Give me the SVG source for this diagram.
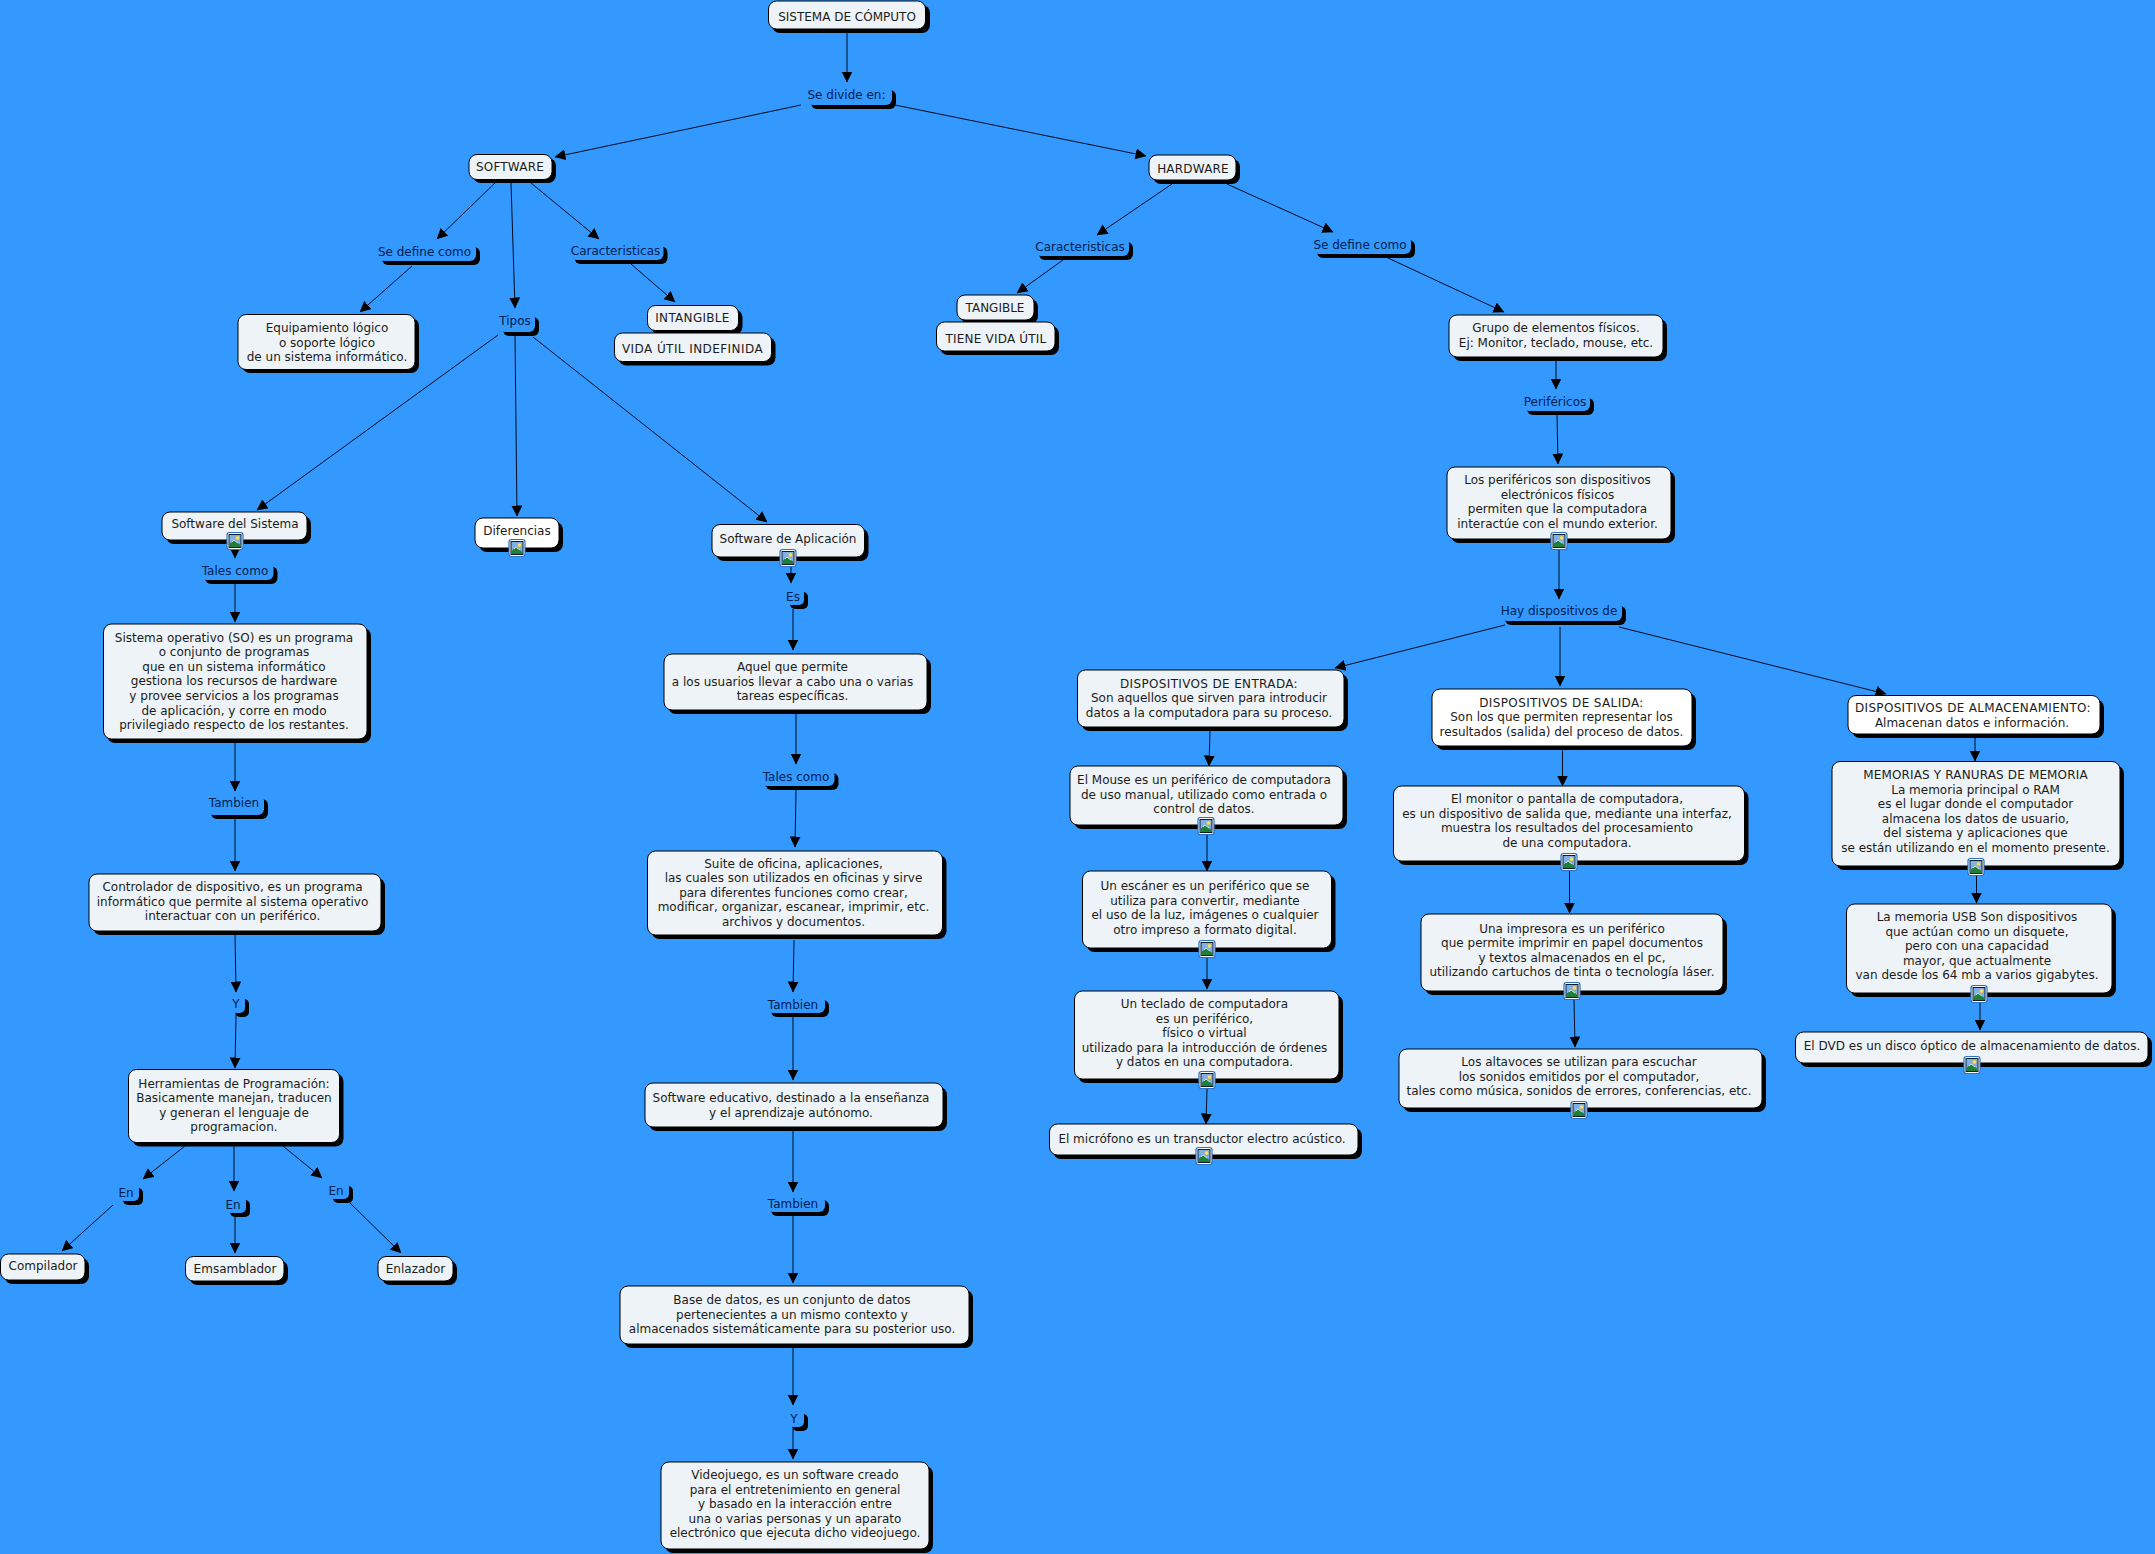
<svg xmlns="http://www.w3.org/2000/svg" width="2155" height="1554" viewBox="0 0 2155 1554">
<style>
text{font-family:"DejaVu Sans",Verdana,sans-serif;font-size:12px;text-anchor:middle;fill:#1c1c1c}
.l text{fill:#00204f}
.s{fill:#000}
.b{fill:#edf3f6;stroke:#000;stroke-width:1}
.w{fill:#fff;stroke:#000;stroke-width:1}
.lb{fill:#3399ff}
#c line{stroke:#000a20;stroke-width:1;marker-end:url(#a)}
</style>
<defs>
<marker id="a" markerUnits="userSpaceOnUse" markerWidth="12" markerHeight="12" refX="10.500" refY="5.500" orient="auto"><path d="M0,0L11,5.500L0,11Z" fill="#000"/></marker>
<g id="i"><rect x="-8" y="-8.500" width="16" height="17" rx="2.500" fill="#fff" stroke="#2a6fc0" stroke-width="1.200"/><rect x="-6" y="-6.500" width="12" height="13" fill="#7fb0e6" stroke="#0a1a30"/><circle cx="2.500" cy="-3" r="2" fill="#f6e27a" stroke="#c9a93a" stroke-width=".5"/><path d="M-5.500,6L-5.500,3L-1,-1L5.500,4L5.500,6Z" fill="#1f7f38"/><path d="M-3,1L-1,-1L3,2" fill="none" stroke="#cfe8d0"/></g>
</defs>
<rect width="2155" height="1554" fill="#3399ff"/>
<g id="c">
<line x1="847" y1="29" x2="847" y2="82"/>
<line x1="801" y1="105" x2="555" y2="157"/>
<line x1="895" y1="105" x2="1146" y2="156"/>
<line x1="495" y1="183" x2="437" y2="239"/>
<line x1="511" y1="183" x2="515" y2="308"/>
<line x1="531" y1="183" x2="599" y2="239"/>
<line x1="412" y1="266" x2="360" y2="312"/>
<line x1="631" y1="264" x2="675" y2="302"/>
<line x1="498" y1="335" x2="257" y2="510"/>
<line x1="515" y1="336" x2="517" y2="516"/>
<line x1="533" y1="337" x2="767" y2="522"/>
<line x1="235" y1="549" x2="235" y2="558"/>
<line x1="235" y1="584" x2="235" y2="622"/>
<line x1="235" y1="743" x2="235" y2="791"/>
<line x1="235" y1="816" x2="235" y2="871"/>
<line x1="235" y1="934" x2="236" y2="992"/>
<line x1="236" y1="1015" x2="235" y2="1068"/>
<line x1="185" y1="1146" x2="143" y2="1179"/>
<line x1="234" y1="1146" x2="234" y2="1191"/>
<line x1="283" y1="1146" x2="322" y2="1178"/>
<line x1="113" y1="1205" x2="62" y2="1251"/>
<line x1="235" y1="1217" x2="235" y2="1253"/>
<line x1="350" y1="1203" x2="401" y2="1253"/>
<line x1="791" y1="567" x2="791" y2="583"/>
<line x1="793" y1="609" x2="793" y2="650"/>
<line x1="796" y1="714" x2="796" y2="764"/>
<line x1="796" y1="790" x2="795" y2="847"/>
<line x1="794" y1="940" x2="793" y2="992"/>
<line x1="793" y1="1017" x2="793" y2="1080"/>
<line x1="793" y1="1131" x2="793" y2="1192"/>
<line x1="793" y1="1216" x2="793" y2="1283"/>
<line x1="793" y1="1348" x2="793" y2="1405"/>
<line x1="793" y1="1429" x2="793" y2="1459"/>
<line x1="1172" y1="184" x2="1097" y2="235"/>
<line x1="1227" y1="184" x2="1333" y2="232"/>
<line x1="1063" y1="260" x2="1017" y2="293"/>
<line x1="1388" y1="258" x2="1504" y2="312"/>
<line x1="1556" y1="361" x2="1556" y2="389"/>
<line x1="1557" y1="415" x2="1558" y2="464"/>
<line x1="1559" y1="550" x2="1559" y2="599"/>
<line x1="1505" y1="625" x2="1335" y2="668"/>
<line x1="1560" y1="627" x2="1560" y2="686"/>
<line x1="1619" y1="627" x2="1886" y2="694"/>
<line x1="1210" y1="731" x2="1209" y2="766"/>
<line x1="1562.500" y1="750" x2="1562.500" y2="786"/>
<line x1="1975" y1="738" x2="1975" y2="761"/>
<line x1="1207" y1="835" x2="1207" y2="871"/>
<line x1="1207" y1="958" x2="1207" y2="989"/>
<line x1="1207" y1="1089" x2="1206" y2="1124"/>
<line x1="1569.500" y1="871" x2="1569.500" y2="913"/>
<line x1="1574" y1="999" x2="1575" y2="1047"/>
<line x1="1976.500" y1="875" x2="1976.500" y2="903"/>
<line x1="1980" y1="1003" x2="1980" y2="1030"/>
</g>
<g id="n1"><rect class="s" x="772" y="5" width="158" height="28" rx="8"/><rect class="b" x="768.500" y="1" width="157" height="28" rx="8"/><text x="847" y="21">SISTEMA DE CÓMPUTO</text></g>
<g id="n2" class="l"><rect class="s" x="811" y="90" width="85" height="19" rx="6"/><rect class="lb" x="807" y="86" width="85" height="19" rx="6"/><text x="846.500" y="99">Se divide en:</text></g>
<g id="n3"><rect class="s" x="473" y="158" width="83" height="25" rx="8"/><rect class="b" x="469" y="154.500" width="83" height="25" rx="8"/><text x="510" y="171" style="letter-spacing:.2px">SOFTWARE</text></g>
<g id="n4"><rect class="s" x="1153" y="159" width="87" height="25" rx="8"/><rect class="b" x="1149" y="155" width="87" height="25" rx="8"/><text x="1193" y="173" style="letter-spacing:.2px">HARDWARE</text></g>
<g id="n5" class="l"><rect class="s" x="382" y="247" width="98" height="18" rx="6"/><rect class="lb" x="378" y="243" width="98" height="18" rx="6"/><text x="424.500" y="256">Se define como</text></g>
<g id="n6" class="l"><rect class="s" x="574.500" y="246.500" width="93" height="17.500" rx="6"/><rect class="lb" x="570.500" y="242.500" width="93" height="17.500" rx="6"/><text x="615.500" y="255">Caracteristicas</text></g>
<g id="n7" class="l"><rect class="s" x="1039" y="242" width="94" height="18" rx="6"/><rect class="lb" x="1035" y="238" width="94" height="18" rx="6"/><text x="1080" y="251">Caracteristicas</text></g>
<g id="n8" class="l"><rect class="s" x="1317" y="240" width="98" height="18" rx="6"/><rect class="lb" x="1313" y="236" width="98" height="18" rx="6"/><text x="1360" y="249">Se define como</text></g>
<g id="n9"><rect class="s" x="242" y="318" width="177" height="55" rx="8"/><rect class="b" x="238" y="314.500" width="177" height="55" rx="8"/><text x="327" y="332">Equipamiento lógico<tspan x="327" dy="14.600">o soporte lógico</tspan><tspan x="327" dy="14.600">de un sistema informático.</tspan></text></g>
<g id="n10" class="l"><rect class="s" x="503" y="317" width="36" height="19" rx="6"/><rect class="lb" x="499" y="313" width="36" height="19" rx="6"/><text x="515" y="325">Tipos</text></g>
<g id="n11"><rect class="s" x="651.500" y="309.500" width="91" height="25" rx="8"/><rect class="b" x="647.500" y="305.500" width="91" height="25" rx="8"/><text x="692.500" y="322" style="letter-spacing:.3px">INTANGIBLE</text></g>
<g id="n12"><rect class="s" x="618.500" y="337" width="157" height="28.500" rx="8"/><rect class="b" x="614.500" y="333" width="157" height="28.500" rx="8"/><text x="692.500" y="353" style="letter-spacing:.43px">VIDA ÚTIL INDEFINIDA</text></g>
<g id="n13"><rect class="s" x="961" y="299" width="77" height="25" rx="8"/><rect class="b" x="957" y="295" width="77" height="25" rx="8"/><text x="995" y="312">TANGIBLE</text></g>
<g id="n14"><rect class="s" x="940" y="326" width="119" height="29" rx="8"/><rect class="b" x="936.500" y="322" width="118.500" height="29" rx="8"/><text x="996" y="343" style="letter-spacing:.2px">TIENE VIDA ÚTIL</text></g>
<g id="n15"><rect class="s" x="1453" y="319" width="214" height="42" rx="8"/><rect class="b" x="1449" y="315" width="214" height="42" rx="8"/><text x="1556" y="332">Grupo de elementos físicos.<tspan x="1556" dy="14.600">Ej: Monitor, teclado, mouse, etc.</tspan></text></g>
<g id="n16" class="l"><rect class="s" x="1527" y="398" width="67" height="17" rx="6"/><rect class="lb" x="1523" y="394" width="67" height="17" rx="6"/><text x="1555" y="406">Periféricos</text></g>
<g id="n17"><rect class="s" x="1451" y="471" width="224" height="72" rx="8"/><rect class="b" x="1447" y="467" width="224" height="72" rx="8"/><text x="1557.500" y="484">Los periféricos son dispositivos<tspan x="1557.500" dy="14.600">electrónicos físicos</tspan><tspan x="1557.500" dy="14.600">permiten que la computadora</tspan><tspan x="1557.500" dy="14.600">interactúe con el mundo exterior.</tspan></text><use href="#i" x="1559" y="541"/></g>
<g id="n18"><rect class="s" x="166" y="516" width="145" height="28" rx="8"/><rect class="b" x="162" y="512" width="145" height="28" rx="8"/><text x="235" y="528">Software del Sistema</text><use href="#i" x="235" y="541"/></g>
<g id="n19"><rect class="s" x="479" y="522" width="84" height="30" rx="8"/><rect class="w" x="475" y="518" width="84" height="30" rx="8"/><text x="517" y="535">Diferencias</text><use href="#i" x="517" y="548"/></g>
<g id="n20"><rect class="s" x="716" y="528.500" width="152.500" height="32.500" rx="8"/><rect class="b" x="712" y="524.500" width="152.500" height="32.500" rx="8"/><text x="788" y="543">Software de Aplicación</text><use href="#i" x="788" y="558"/></g>
<g id="n21" class="l"><rect class="s" x="205" y="566.500" width="72.500" height="17.500" rx="6"/><rect class="lb" x="201" y="562.500" width="72.500" height="17.500" rx="6"/><text x="235" y="575">Tales como</text></g>
<g id="n22" class="l"><rect class="s" x="790" y="592" width="18" height="17" rx="5"/><rect class="lb" x="786" y="588" width="18" height="17" rx="5"/><text x="793" y="601">Es</text></g>
<g id="n23"><rect class="s" x="107" y="628" width="264" height="115" rx="8"/><rect class="b" x="103.500" y="624" width="263.500" height="115" rx="8"/><text x="234" y="641.500">Sistema operativo (SO) es un programa<tspan x="234" dy="14.600">o conjunto de programas</tspan><tspan x="234" dy="14.600">que en un sistema informático</tspan><tspan x="234" dy="14.600">gestiona los recursos de hardware</tspan><tspan x="234" dy="14.600">y provee servicios a los programas</tspan><tspan x="234" dy="14.600">de aplicación, y corre en modo</tspan><tspan x="234" dy="14.600">privilegiado respecto de los restantes.</tspan></text></g>
<g id="n24"><rect class="s" x="668" y="658" width="263" height="56" rx="8"/><rect class="b" x="664" y="654" width="263" height="56" rx="8"/><text x="792.500" y="671">Aquel que permite<tspan x="792.500" dy="14.600">a los usuarios llevar a cabo una o varias</tspan><tspan x="792.500" dy="14.600">tareas específicas.</tspan></text></g>
<g id="n25" class="l"><rect class="s" x="765.500" y="773" width="73" height="17" rx="6"/><rect class="lb" x="761.500" y="769" width="73" height="17" rx="6"/><text x="796" y="781">Tales como</text></g>
<g id="n26" class="l"><rect class="s" x="211" y="799" width="57" height="20" rx="6"/><rect class="lb" x="207" y="795" width="57" height="20" rx="6"/><text x="234" y="807">Tambien</text></g>
<g id="n27"><rect class="s" x="93" y="878" width="292" height="57" rx="8"/><rect class="b" x="89" y="874" width="292" height="57" rx="8"/><text x="232.500" y="891">Controlador de dispositivo, es un programa<tspan x="232.500" dy="14.600">informático que permite al sistema operativo</tspan><tspan x="232.500" dy="14.600">interactuar con un periférico.</tspan></text></g>
<g id="n28"><rect class="s" x="651.500" y="855" width="295" height="84" rx="8"/><rect class="b" x="647.500" y="851" width="295" height="84" rx="8"/><text x="793.500" y="867.500">Suite de oficina, aplicaciones,<tspan x="793.500" dy="14.600">las cuales son utilizados en oficinas y sirve</tspan><tspan x="793.500" dy="14.600">para diferentes funciones como crear,</tspan><tspan x="793.500" dy="14.600">modificar, organizar, escanear, imprimir, etc.</tspan><tspan x="793.500" dy="14.600">archivos y documentos.</tspan></text></g>
<g id="n29" class="l"><rect class="s" x="235" y="999" width="14" height="18" rx="5"/><rect class="lb" x="231" y="995" width="14" height="18" rx="5"/><text x="236" y="1008">Y</text></g>
<g id="n30" class="l"><rect class="s" x="771" y="1000" width="58" height="17" rx="6"/><rect class="lb" x="767" y="996" width="58" height="17" rx="6"/><text x="793" y="1009">Tambien</text></g>
<g id="n31"><rect class="s" x="132.500" y="1073.500" width="211" height="73" rx="8"/><rect class="b" x="128.500" y="1069.500" width="211" height="73" rx="8"/><text x="234" y="1087.500">Herramientas de Programación:<tspan x="234" dy="14.600">Basicamente manejan, traducen</tspan><tspan x="234" dy="14.600">y generan el lenguaje de</tspan><tspan x="234" dy="14.600">programacion.</tspan></text></g>
<g id="n32"><rect class="s" x="649" y="1087" width="298" height="44" rx="8"/><rect class="b" x="645" y="1083" width="298" height="44" rx="8"/><text x="791" y="1102">Software educativo, destinado a la enseñanza<tspan x="791" dy="14.600">y el aprendizaje autónomo.</tspan></text></g>
<g id="n33" class="l"><rect class="s" x="123" y="1188" width="20" height="17" rx="5"/><rect class="lb" x="119" y="1184" width="20" height="17" rx="5"/><text x="126" y="1197">En</text></g>
<g id="n34" class="l"><rect class="s" x="230" y="1200" width="20" height="17" rx="5"/><rect class="lb" x="226" y="1196" width="20" height="17" rx="5"/><text x="233" y="1209">En</text></g>
<g id="n35" class="l"><rect class="s" x="333" y="1186" width="20" height="17" rx="5"/><rect class="lb" x="329" y="1182" width="20" height="17" rx="5"/><text x="336" y="1195">En</text></g>
<g id="n36" class="l"><rect class="s" x="771" y="1200" width="58" height="16" rx="6"/><rect class="lb" x="767" y="1196" width="58" height="16" rx="6"/><text x="793" y="1208">Tambien</text></g>
<g id="n37"><rect class="s" x="4.500" y="1258" width="84.500" height="26" rx="8"/><rect class="b" x="0.500" y="1254" width="84.500" height="26" rx="8"/><text x="43" y="1270">Compilador</text></g>
<g id="n38"><rect class="s" x="189.500" y="1260.500" width="98.500" height="24.500" rx="8"/><rect class="b" x="185.500" y="1256.500" width="98.500" height="24.500" rx="8"/><text x="235" y="1273">Emsamblador</text></g>
<g id="n39"><rect class="s" x="382" y="1260.500" width="75" height="24.500" rx="8"/><rect class="b" x="378" y="1256.500" width="75" height="24.500" rx="8"/><text x="415.500" y="1273">Enlazador</text></g>
<g id="n40"><rect class="s" x="624" y="1290" width="349" height="58" rx="8"/><rect class="b" x="620" y="1286" width="349" height="58" rx="8"/><text x="792" y="1304">Base de datos, es un conjunto de datos<tspan x="792" dy="14.600">pertenecientes a un mismo contexto y</tspan><tspan x="792" dy="14.600">almacenados sistemáticamente para su posterior uso.</tspan></text></g>
<g id="n41" class="l"><rect class="s" x="792" y="1414" width="16" height="17" rx="5"/><rect class="lb" x="788" y="1410" width="16" height="17" rx="5"/><text x="794" y="1423">Y</text></g>
<g id="n42"><rect class="s" x="665" y="1466" width="268" height="87" rx="8"/><rect class="b" x="661" y="1462" width="268" height="87" rx="8"/><text x="795" y="1479">Videojuego, es un software creado<tspan x="795" dy="14.600">para el entretenimiento en general</tspan><tspan x="795" dy="14.600">y basado en la interacción entre</tspan><tspan x="795" dy="14.600">una o varias personas y un aparato</tspan><tspan x="795" dy="14.600">electrónico que ejecuta dicho videojuego.</tspan></text></g>
<g id="n43" class="l"><rect class="s" x="1505" y="606" width="121" height="19" rx="6"/><rect class="lb" x="1501" y="602" width="121" height="19" rx="6"/><text x="1559" y="615">Hay dispositivos de</text></g>
<g id="n44"><rect class="s" x="1081.500" y="674" width="266.500" height="57" rx="8"/><rect class="b" x="1077.500" y="670" width="266.500" height="57" rx="8"/><text x="1209" y="687.500"><tspan style="letter-spacing:.35px">DISPOSITIVOS DE ENTRADA:</tspan><tspan x="1209" dy="14.600">Son aquellos que sirven para introducir</tspan><tspan x="1209" dy="14.600">datos a la computadora para su proceso.</tspan></text></g>
<g id="n45"><rect class="s" x="1436" y="693" width="260" height="57" rx="8"/><rect class="w" x="1432" y="689" width="260" height="57" rx="8"/><text x="1561.500" y="706.500"><tspan style="letter-spacing:.37px">DISPOSITIVOS DE SALIDA:</tspan><tspan x="1561.500" dy="14.600">Son los que permiten representar los</tspan><tspan x="1561.500" dy="14.600">resultados (salida) del proceso de datos.</tspan></text></g>
<g id="n46"><rect class="s" x="1852" y="699.500" width="252" height="38.500" rx="8"/><rect class="w" x="1848" y="695.500" width="252" height="38.500" rx="8"/><text x="1973" y="712"><tspan style="letter-spacing:.32px">DISPOSITIVOS DE ALMACENAMIENTO:</tspan><tspan x="1972" dy="14.600">Almacenan datos e información.</tspan></text></g>
<g id="n47"><rect class="s" x="1074" y="770" width="273" height="59" rx="8"/><rect class="b" x="1070" y="766" width="273" height="59" rx="8"/><text x="1204" y="784">El Mouse es un periférico de computadora<tspan x="1204" dy="14.600">de uso manual, utilizado como entrada o</tspan><tspan x="1204" dy="14.600">control de datos.</tspan></text><use href="#i" x="1206" y="826"/></g>
<g id="n48"><rect class="s" x="1397.500" y="790" width="351" height="75" rx="8"/><rect class="b" x="1393.500" y="786" width="351" height="75" rx="8"/><text x="1567" y="803">El monitor o pantalla de computadora,<tspan x="1567" dy="14.600">es un dispositivo de salida que, mediante una interfaz,</tspan><tspan x="1567" dy="14.600">muestra los resultados del procesamiento</tspan><tspan x="1567" dy="14.600">de una computadora.</tspan></text><use href="#i" x="1569" y="862"/></g>
<g id="n49"><rect class="s" x="1836" y="765.500" width="288" height="104.500" rx="8"/><rect class="b" x="1832" y="761.500" width="288" height="104.500" rx="8"/><text x="1975.500" y="779"><tspan style="letter-spacing:.15px">MEMORIAS Y RANURAS DE MEMORIA</tspan><tspan x="1975.500" dy="14.600">La memoria principal o RAM</tspan><tspan x="1975.500" dy="14.600">es el lugar donde el computador</tspan><tspan x="1975.500" dy="14.600">almacena los datos de usuario,</tspan><tspan x="1975.500" dy="14.600">del sistema y aplicaciones que</tspan><tspan x="1975.500" dy="14.600">se están utilizando en el momento presente.</tspan></text><use href="#i" x="1976" y="867"/></g>
<g id="n50"><rect class="s" x="1086.500" y="875" width="249" height="77" rx="8"/><rect class="b" x="1082.500" y="871" width="249" height="77" rx="8"/><text x="1205" y="890">Un escáner es un periférico que se<tspan x="1205" dy="14.600">utiliza para convertir, mediante</tspan><tspan x="1205" dy="14.600">el uso de la luz, imágenes o cualquier</tspan><tspan x="1205" dy="14.600">otro impreso a formato digital.</tspan></text><use href="#i" x="1207" y="949"/></g>
<g id="n51"><rect class="s" x="1425" y="918" width="302" height="77" rx="8"/><rect class="b" x="1421" y="914" width="302" height="77" rx="8"/><text x="1572" y="932.500">Una impresora es un periférico<tspan x="1572" dy="14.600">que permite imprimir en papel documentos</tspan><tspan x="1572" dy="14.600">y textos almacenados en el pc,</tspan><tspan x="1572" dy="14.600">utilizando cartuchos de tinta o tecnología láser.</tspan></text><use href="#i" x="1572" y="991"/></g>
<g id="n52"><rect class="s" x="1850.500" y="908" width="265.500" height="89" rx="8"/><rect class="b" x="1846.500" y="904" width="265.500" height="89" rx="8"/><text x="1977" y="921">La memoria USB Son dispositivos<tspan x="1977" dy="14.600">que actúan como un disquete,</tspan><tspan x="1977" dy="14.600">pero con una capacidad</tspan><tspan x="1977" dy="14.600">mayor, que actualmente</tspan><tspan x="1977" dy="14.600">van desde los 64 mb a varios gigabytes.</tspan></text><use href="#i" x="1979" y="994"/></g>
<g id="n53"><rect class="s" x="1078" y="995" width="265" height="88" rx="8"/><rect class="b" x="1074.500" y="991" width="264.500" height="88" rx="8"/><text x="1204.500" y="1008">Un teclado de computadora<tspan x="1204.500" dy="14.600">es un periférico,</tspan><tspan x="1204.500" dy="14.600">físico o virtual</tspan><tspan x="1204.500" dy="14.600">utilizado para la introducción de órdenes</tspan><tspan x="1204.500" dy="14.600">y datos en una computadora.</tspan></text><use href="#i" x="1207" y="1080"/></g>
<g id="n54"><rect class="s" x="1799.500" y="1036" width="352.500" height="31" rx="8"/><rect class="b" x="1795.500" y="1032" width="352.500" height="31" rx="8"/><text x="1972" y="1050">El DVD es un disco óptico de almacenamiento de datos.</text><use href="#i" x="1972" y="1065"/></g>
<g id="n55"><rect class="s" x="1403" y="1053" width="363" height="59" rx="8"/><rect class="b" x="1399" y="1049" width="363" height="59" rx="8"/><text x="1579" y="1066">Los altavoces se utilizan para escuchar<tspan x="1579" dy="14.600">los sonidos emitidos por el computador,</tspan><tspan x="1579" dy="14.600">tales como música, sonidos de errores, conferencias, etc.</tspan></text><use href="#i" x="1579" y="1110"/></g>
<g id="n56"><rect class="s" x="1053" y="1128" width="309" height="31" rx="8"/><rect class="b" x="1049.500" y="1124" width="308.500" height="31" rx="8"/><text x="1202" y="1143">El micrófono es un transductor electro acústico.</text><use href="#i" x="1204" y="1156"/></g>
</svg>
